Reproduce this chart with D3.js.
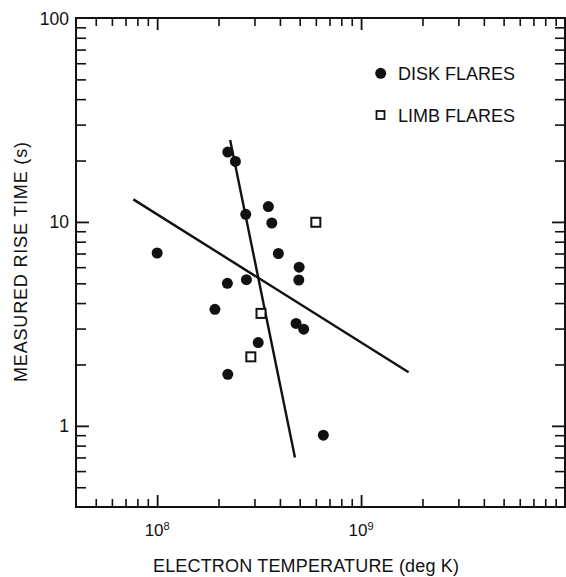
<!DOCTYPE html>
<html>
<head>
<meta charset="utf-8">
<script src="https://cdn.jsdelivr.net/npm/d3@7/dist/d3.min.js"></script>
<style>
  html, body { margin: 0; padding: 0; background: #fff; }
  svg { display: block; }
  text { font-family: "Liberation Sans", Arial, Helvetica, sans-serif; fill: #111; }
</style>
</head>
<body>
<div id="chart"></div>
<script>
// ---- data ----
const diskTemp = [1.0e8, 2.22e8, 2.42e8, 2.72e8, 3.51e8, 3.65e8, 3.93e8, 4.97e8, 4.95e8, 2.21e8, 2.74e8, 1.92e8, 4.80e8, 5.23e8, 3.13e8, 2.22e8, 6.53e8];
const diskRise = [7.04, 22.0, 19.8, 10.9, 11.9, 9.88, 7.0, 6.0, 5.19, 5.0, 5.21, 3.73, 3.18, 2.98, 2.56, 1.79, 0.90];
const limbTemp = [6.0e8, 3.23e8, 2.88e8];
const limbRise = [9.96, 3.56, 2.18];
const steepFitTemp = [2.28e8, 4.74e8];
const steepFitRise = [25.2, 0.70];
const shallowFitTemp = [7.64e7, 1.71e9];
const shallowFitRise = [12.9, 1.83];

const xDomain = [4e7, 1e10];
const yDomain = [0.4, 100];
const xMajorTicks = [1e8, 1e9];
const xTickExponents = ["8", "9"];
const xMinorTicks = [5e7, 6e7, 7e7, 8e7, 9e7, 2e8, 3e8, 4e8, 5e8, 6e8, 7e8, 8e8, 9e8, 2e9, 3e9, 4e9, 5e9, 6e9, 7e9, 8e9, 9e9];
const yMajorTicks = [1, 10, 100];
const yTickLabels = ["1", "10", "100"];
const yMinorTicks = [0.5, 0.6, 0.7, 0.8, 0.9, 2, 3, 4, 5, 6, 7, 8, 9, 20, 30, 40, 50, 60, 70, 80, 90];
const legendLabels = ["DISK FLARES", "LIMB FLARES"];
const xTitle = "ELECTRON TEMPERATURE (deg K)";
const yTitle = "MEASURED RISE TIME (s)";

// ---- layout ----
const W = 566, H = 577;
const L = 76, R = 565, T = 18, B = 507;

const svg = d3.select("#chart").append("svg").attr("width", W).attr("height", H);

const x = d3.scaleLog().domain(xDomain).range([L, R]);
const y = d3.scaleLog().domain(yDomain).range([B, T]);

function styleAxis(g, sw) {
  g.select(".domain").remove();
  g.selectAll(".tick text").remove();
  g.selectAll(".tick line").attr("stroke", "#111").attr("stroke-width", sw);
}

// bottom / top
svg.append("g").attr("transform", `translate(0,${B})`)
  .call(d3.axisBottom(x).tickValues(xMinorTicks).tickSize(-8)).call(g => styleAxis(g, 1.6));
svg.append("g").attr("transform", `translate(0,${B})`)
  .call(d3.axisBottom(x).tickValues(xMajorTicks).tickSize(-12)).call(g => styleAxis(g, 1.8));
svg.append("g").attr("transform", `translate(0,${T})`)
  .call(d3.axisTop(x).tickValues(xMinorTicks).tickSize(-8)).call(g => styleAxis(g, 1.6));
svg.append("g").attr("transform", `translate(0,${T})`)
  .call(d3.axisTop(x).tickValues(xMajorTicks).tickSize(-12)).call(g => styleAxis(g, 1.8));
// left / right
svg.append("g").attr("transform", `translate(${L},0)`)
  .call(d3.axisLeft(y).tickValues(yMinorTicks).tickSize(-10)).call(g => styleAxis(g, 1.6));
svg.append("g").attr("transform", `translate(${L},0)`)
  .call(d3.axisLeft(y).tickValues(yMajorTicks.slice(0, 2)).tickSize(-13)).call(g => styleAxis(g, 1.8));
svg.append("g").attr("transform", `translate(${R},0)`)
  .call(d3.axisRight(y).tickValues(yMinorTicks).tickSize(-10)).call(g => styleAxis(g, 1.6));
svg.append("g").attr("transform", `translate(${R},0)`)
  .call(d3.axisRight(y).tickValues(yMajorTicks.slice(0, 2)).tickSize(-13)).call(g => styleAxis(g, 1.8));

// frame
svg.append("rect").attr("x", L).attr("y", T).attr("width", R - L).attr("height", B - T)
  .attr("fill", "none").attr("stroke", "#111").attr("stroke-width", 2);

// y tick labels
svg.selectAll(".ylab").data(yMajorTicks).enter().append("text")
  .attr("x", L - 7).attr("y", d => y(d) + 6.5)
  .attr("text-anchor", "end").attr("font-size", 17.5)
  .text((d, i) => yTickLabels[i]);

// x tick labels
xMajorTicks.forEach((v, i) => {
  const t = svg.append("text").attr("x", x(v)).attr("y", 536)
    .attr("text-anchor", "middle").attr("font-size", 17);
  t.append("tspan").text("10");
  t.append("tspan").attr("font-size", 11).attr("dy", -6).text(xTickExponents[i]);
});

// titles
svg.append("text").attr("x", 306).attr("y", 572).attr("text-anchor", "middle")
  .attr("font-size", 18).attr("textLength", 306).attr("lengthAdjust", "spacing").text(xTitle);
svg.append("text").attr("transform", "translate(27,262) rotate(-90)").attr("text-anchor", "middle")
  .attr("font-size", 18).attr("textLength", 240).attr("lengthAdjust", "spacing").text(yTitle);

// fit lines
const line = d3.line().x(d => x(d[0])).y(d => y(d[1]));
svg.append("path").datum(d3.zip(steepFitTemp, steepFitRise)).attr("d", line)
  .attr("fill", "none").attr("stroke", "#111").attr("stroke-width", 2.4);
svg.append("path").datum(d3.zip(shallowFitTemp, shallowFitRise)).attr("d", line)
  .attr("fill", "none").attr("stroke", "#111").attr("stroke-width", 2.4);

// disk flares
svg.selectAll(".disk").data(d3.zip(diskTemp, diskRise)).enter().append("circle")
  .attr("cx", d => x(d[0])).attr("cy", d => y(d[1])).attr("r", 5.5).attr("fill", "#111");

// limb flares
const s = 9;
svg.selectAll(".limb").data(d3.zip(limbTemp, limbRise)).enter().append("rect")
  .attr("x", d => x(d[0]) - s / 2).attr("y", d => y(d[1]) - s / 2)
  .attr("width", s).attr("height", s)
  .attr("fill", "#fff").attr("stroke", "#111").attr("stroke-width", 2);

// legend
svg.append("circle").attr("cx", 380.7).attr("cy", 73.3).attr("r", 5.5).attr("fill", "#111");
svg.append("text").attr("x", 398).attr("y", 80).attr("font-size", 18).text(legendLabels[0]);
svg.append("rect").attr("x", 376.5).attr("y", 111).attr("width", 8).attr("height", 8)
  .attr("fill", "#fff").attr("stroke", "#111").attr("stroke-width", 1.8);
svg.append("text").attr("x", 398).attr("y", 122).attr("font-size", 18).text(legendLabels[1]);
</script>
</body>
</html>
